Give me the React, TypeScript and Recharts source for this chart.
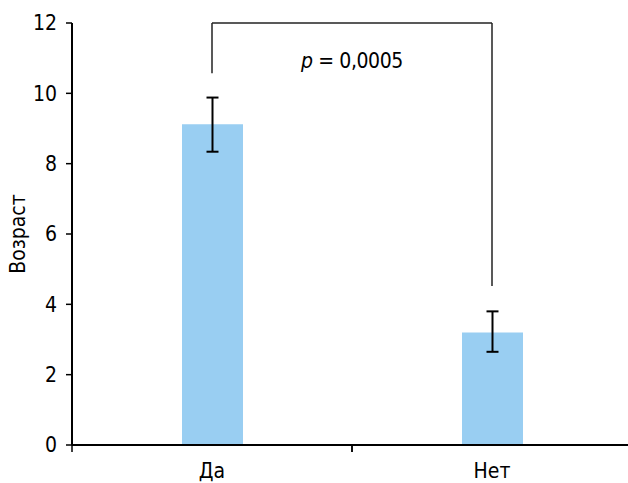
import React from 'react';
import { BarChart, Bar, XAxis, YAxis, ErrorBar, ReferenceLine } from 'recharts';

const categories = ['Да', 'Нет'];
const values = [9.12, 3.2];
const errors: [number, number][] = [[0.78, 0.76], [0.55, 0.6]];
const yTicks = [0, 2, 4, 6, 8, 10, 12];
const bracketTop = 12;
const bracketEnds = [10.57, 4.52];
const pLabel = '0,0005';

const data = categories.map((name, i) => ({ name, value: values[i], err: errors[i] }));

const FONT = '"Liberation Sans Narrow", "DejaVu Sans Condensed", Roboto, sans-serif';

const CategoryTick = (props: any) => {
    const { x, y, payload } = props;
    const off = payload?.offset ?? 0;
    return (
        <g>
            <line x1={x - off} y1={y} x2={x - off} y2={y + 7} stroke="#000" strokeWidth={1.5} />
            <line x1={x + off} y1={y} x2={x + off} y2={y + 7} stroke="#000" strokeWidth={1.5} />
            <text x={x} y={y + 18} dy="0.71em" textAnchor="middle" fill="#000" fontSize={21} fontFamily={FONT}>
                {payload.value}
            </text>
        </g>
    );
};

const PLabel = (props: any) => {
    const vb = props.viewBox || {};
    const cx = vb.x + (vb.width || 0) / 2;
    return (
        <text x={cx} y={vb.y + 45} textAnchor="middle" fill="#000" fontSize={21} fontFamily={FONT} letterSpacing={-0.4}>
            <tspan fontStyle="italic">p</tspan> = {pLabel}
        </text>
    );
};

const YLabel = (props: any) => {
    const vb = props.viewBox || {};
    const cy = vb.y + vb.height / 2;
    return (
        <text x={18} y={cy} transform={`rotate(-90, 18, ${cy})`} textAnchor="middle" dominantBaseline="central"
            fill="#000" fontSize={21} fontFamily={FONT}>
            Возраст
        </text>
    );
};

export default function App() {
    return (
        <div style={{ position: 'absolute', left: 0, top: 0, width: 628, height: 483, overflow: 'hidden', background: '#fff' }}>
            <BarChart width={640} height={483} data={data} margin={{ top: 23, right: 8, left: 0, bottom: 0 }}>
                <XAxis dataKey="name" height={38} tickLine={false} tickSize={0} tickMargin={0}
                    axisLine={{ stroke: '#000', strokeWidth: 2 }} tick={<CategoryTick />} interval={0} />
                <YAxis width={72} domain={[0, 12]} ticks={yTicks} interval={0} tickSize={6} tickMargin={9}
                    axisLine={{ stroke: '#000', strokeWidth: 2 }} tickLine={{ stroke: '#000', strokeWidth: 1.5 }}
                    tick={{ fill: '#000', fontSize: 21, fontFamily: FONT }} label={<YLabel />} />
                <Bar dataKey="value" fill="#99CEF2" barSize={61} isAnimationActive={false}>
                    <ErrorBar dataKey="err" width={6} stroke="#000" strokeWidth={2} isAnimationActive={false} />
                </Bar>
                <ReferenceLine segment={[{ x: categories[0], y: bracketTop }, { x: categories[1], y: bracketTop }]}
                    stroke="#222" strokeWidth={1.5} label={<PLabel />} />
                <ReferenceLine segment={[{ x: categories[0], y: bracketTop }, { x: categories[0], y: bracketEnds[0] }]}
                    stroke="#222" strokeWidth={1.5} />
                <ReferenceLine segment={[{ x: categories[1], y: bracketTop }, { x: categories[1], y: bracketEnds[1] }]}
                    stroke="#222" strokeWidth={1.5} />
            </BarChart>
        </div>
    );
}
